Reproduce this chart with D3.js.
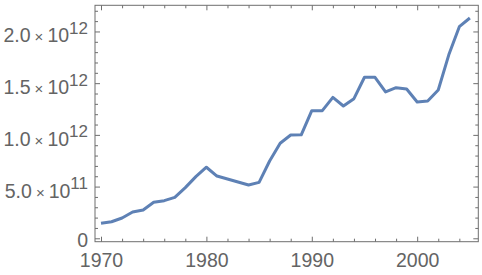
<!DOCTYPE html>
<html>
<head>
<meta charset="utf-8">
<script src="https://cdn.jsdelivr.net/npm/d3@7"></script>
<style>
  body { margin: 0; background: #fff; }
  svg { display: block; }
  .frame text { font-family: "Liberation Sans", Arial, sans-serif; fill: #646464; }
</style>
</head>
<body>
<svg id="chart" width="482" height="275"></svg>
<script>
var years = [1970, 1971, 1972, 1973, 1974, 1975, 1976, 1977, 1978, 1979,
             1980, 1981, 1982, 1983, 1984, 1985, 1986, 1987, 1988, 1989,
             1990, 1991, 1992, 1993, 1994, 1995, 1996, 1997, 1998, 1999,
             2000, 2001, 2002, 2003, 2004, 2005];
var values = [1.45e11, 1.60e11, 1.96e11, 2.54e11, 2.74e11, 3.48e11, 3.64e11, 3.96e11, 4.90e11, 5.96e11,
              6.87e11, 6.02e11, 5.73e11, 5.44e11, 5.15e11, 5.41e11, 7.47e11, 9.19e11, 9.99e11, 1.00e12,
              1.234e12, 1.234e12, 1.363e12, 1.279e12, 1.35e12, 1.557e12, 1.557e12, 1.415e12, 1.456e12, 1.444e12,
              1.318e12, 1.328e12, 1.434e12, 1.774e12, 2.046e12, 2.13e12];

var xMajor = [1970, 1980, 1990, 2000];
var xMinor = [1972, 1974, 1976, 1978, 1982, 1984, 1986, 1988, 1992, 1994, 1996, 1998, 2002, 2004];
var yMajor = [0, 5e11, 1e12, 1.5e12, 2e12];
var yMinor = [1e11, 2e11, 3e11, 4e11, 6e11, 7e11, 8e11, 9e11, 1.1e12, 1.2e12, 1.3e12, 1.4e12,
              1.6e12, 1.7e12, 1.8e12, 1.9e12, 2.1e12, 2.2e12];
var yLabels = [["0"], ["5.0", "11"], ["1.0", "12"], ["1.5", "12"], ["2.0", "12"]];

var svg = d3.select("#chart"),
    L = 95, R = 478.3, T = 5.3, B = 241.7;

var x = d3.scaleLinear().domain([1969.43, 2005.8]).range([L, R]),
    y = d3.scaleLinear().domain([-3.3e10, 2.253e12]).range([B, T]);

var frameColor = "#6e6e6e";
var frame = svg.append("g").attr("class", "frame");

function tickAxis(axis, tr) {
    var g = frame.append("g").attr("transform", tr).call(axis);
    g.select(".domain").remove();
    g.selectAll(".tick line").attr("stroke", frameColor);
    return g;
}

// bottom
var bottom = tickAxis(d3.axisBottom(x).tickValues(xMajor).tickSize(-5).tickSizeOuter(0).tickFormat(d3.format("d")), "translate(0," + B + ")");
bottom.selectAll(".tick text")
    .attr("y", 25.5).attr("dy", null)
    .attr("font-size", 19.5).attr("font-family", null).attr("fill", null);
tickAxis(d3.axisBottom(x).tickValues(xMinor).tickSize(-3).tickSizeOuter(0).tickFormat(""), "translate(0," + B + ")");
// top
tickAxis(d3.axisTop(x).tickValues(xMajor).tickSize(-5).tickSizeOuter(0).tickFormat(""), "translate(0," + T + ")");
tickAxis(d3.axisTop(x).tickValues(xMinor).tickSize(-3).tickSizeOuter(0).tickFormat(""), "translate(0," + T + ")");
// left
var left = tickAxis(d3.axisLeft(y).tickValues(yMajor).tickSize(-5).tickSizeOuter(0).tickFormat(""), "translate(" + L + ",0)");
tickAxis(d3.axisLeft(y).tickValues(yMinor).tickSize(-3).tickSizeOuter(0).tickFormat(""), "translate(" + L + ",0)");
// right
tickAxis(d3.axisRight(y).tickValues(yMajor).tickSize(-5).tickSizeOuter(0).tickFormat(""), "translate(" + R + ",0)");
tickAxis(d3.axisRight(y).tickValues(yMinor).tickSize(-3).tickSizeOuter(0).tickFormat(""), "translate(" + R + ",0)");

left.selectAll(".tick text").remove();
left.selectAll(".tick").each(function(d, i) {
    var lab = yLabels[i];
    var t = d3.select(this).append("text")
        .attr("x", -7).attr("text-anchor", "end")
        .attr("font-family", null).attr("fill", null);
    if (lab.length === 1) {
        t.attr("y", 8).attr("font-size", 19.5).text(lab[0]);
        return;
    }
    t.attr("y", 10.5);
    t.append("tspan").attr("font-size", 19.5).text(lab[0]);
    t.append("tspan").attr("font-size", 15).attr("dx", 4).text("\u00d7");
    t.append("tspan").attr("font-size", 19.5).attr("dx", 4).text("10");
    t.append("tspan").attr("font-size", 17).attr("dy", -8.5).text(lab[1]);
});

frame.append("rect")
    .attr("x", L).attr("y", T)
    .attr("width", R - L).attr("height", B - T)
    .attr("fill", "none").attr("stroke", frameColor).attr("stroke-width", 1);

var line = d3.line()
    .x(function(d, i) { return x(years[i]); })
    .y(function(d) { return y(d); });

svg.append("path")
    .datum(values)
    .attr("fill", "none")
    .attr("stroke", "#5E81B5")
    .attr("stroke-width", 3)
    .attr("stroke-linejoin", "round")
    .attr("d", line);
</script>
</body>
</html>
